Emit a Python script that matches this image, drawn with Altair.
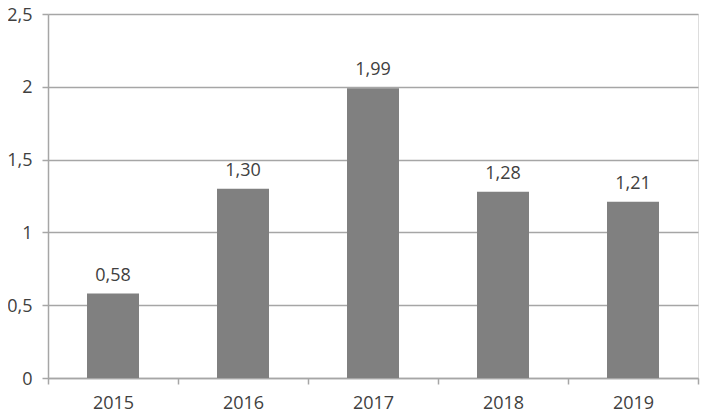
import altair as alt
import pandas as pd

years = ["2015", "2016", "2017", "2018", "2019"]
values = [0.58, 1.30, 1.99, 1.28, 1.21]

df = pd.DataFrame({"year": years, "value": values})

FONT = "Open Sans"
TXT = "#404040"
GRID = "#a6a6a6"

x_enc = alt.X(
    "year:N",
    sort=years,
    title=None,
    scale=alt.Scale(paddingInner=0, paddingOuter=0),
    axis=alt.Axis(
        labelAngle=0,
        labelFont=FONT,
        labelFontSize=18,
        labelColor=TXT,
        labelPadding=10,
        tickBand="extent",
        tickSize=6,
        tickColor=GRID,
        tickWidth=1.5,
        domainColor=GRID,
        domainWidth=1.5,
        grid=False,
    ),
)

y_enc = alt.Y(
    "value:Q",
    title=None,
    scale=alt.Scale(domain=[0, 2.5], nice=False),
    axis=alt.Axis(
        values=[0, 0.5, 1, 1.5, 2, 2.5],
        labelExpr="replace(format(datum.value, '~g'), '.', ',')",
        labelFont=FONT,
        labelFontSize=18,
        labelColor=TXT,
        labelPadding=10,
        labelOffset=1,
        tickSize=6,
        tickColor=GRID,
        tickWidth=1.5,
        domainColor=GRID,
        domainWidth=1.5,
        gridColor=GRID,
        gridWidth=1.5,
    ),
)

base = alt.Chart(df)

bars = base.mark_bar(color="#808080", width=alt.RelativeBandSize(0.4)).encode(
    x=x_enc, y=y_enc
)

labels = (
    base.transform_calculate(lbl="replace(format(datum.value, '.2f'), '.', ',')")
    .mark_text(font=FONT, fontSize=18, color=TXT, baseline="alphabetic", dy=-13)
    .encode(x=alt.X("year:N", sort=years), y="value:Q", text="lbl:N")
)

chart = (
    alt.layer(bars, labels)
    .properties(
        width=650,
        height=364,
        autosize=alt.AutoSizeParams(type="none"),
        padding={"left": 40, "top": 6, "right": 2, "bottom": 40},
    )
    .configure_view(stroke=None)
    .configure(background="white")
)

chart.save("out.html", embed_options={"renderer": "svg", "actions": False})
